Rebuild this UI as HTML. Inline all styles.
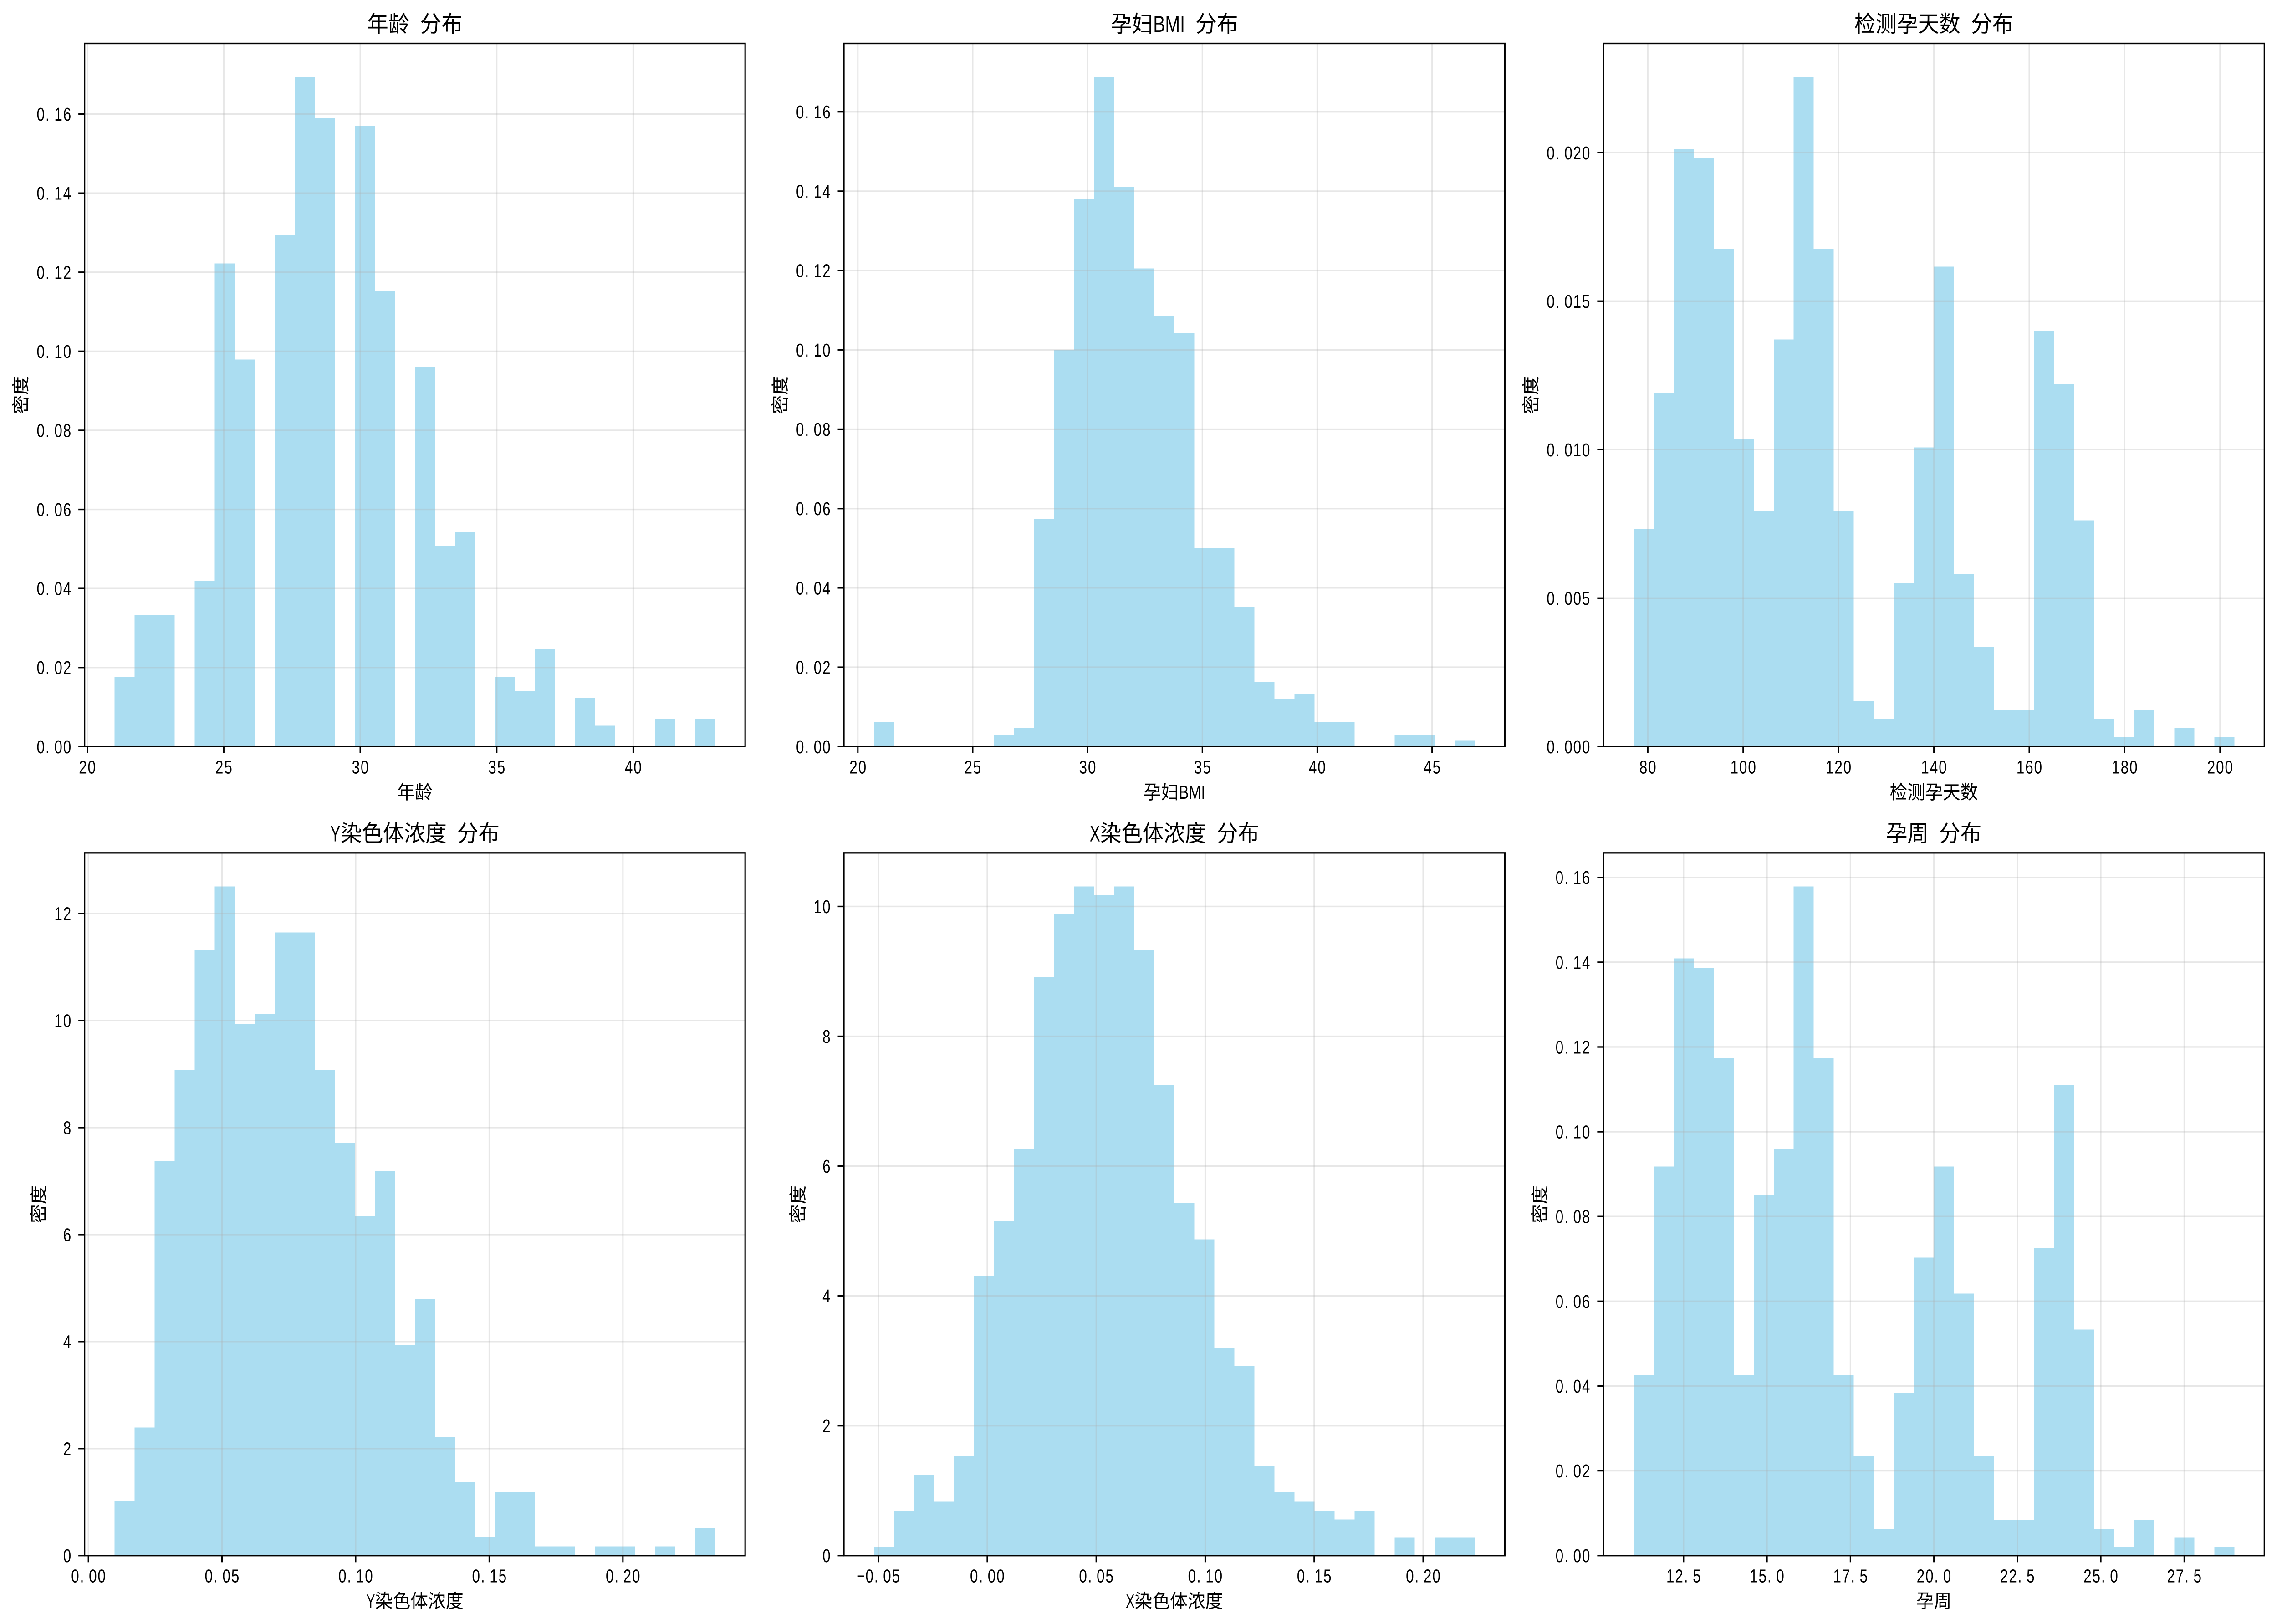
<!DOCTYPE html>
<html lang="zh">
<head>
<meta charset="utf-8">
<title>产前检测指标分布直方图</title>
<style>
html,body{margin:0;padding:0;background:#fff;width:100%;height:100%;overflow:hidden;}
svg{display:block;width:100vw;height:100vh;}
text{white-space:pre;fill:#000;}
</style>
</head>
<body>
<svg id="chart" xmlns="http://www.w3.org/2000/svg" viewBox="0 0 5371 3566" preserveAspectRatio="none">
<rect x="0" y="0" width="5371" height="3566" fill="#ffffff"></rect>
</svg>
<script>
// ---- Panel 1: age ----
const ageRange = [21, 43];
const ageBins = [0.0176,0.0332,0.0332,0,0.0419,0.1222,0.0979,0,0.1293,0.1694,0.1590,0,0.1571,0.1153,0,0.0961,0.0508,0.0542,0,0.0176,0.0141,0.0246,0,0.0123,0.0053,0,0,0.0070,0,0.0070];
const ageXTicks = ['20','25','30','35','40'];
const ageYTicks = ['0.00','0.02','0.04','0.06','0.08','0.10','0.12','0.14','0.16'];

// ---- Panel 2: BMI ----
const bmiRange = [20.7, 46.86];
const bmiBins = [0.0061,0,0,0,0,0,0.0030,0.0046,0.0573,0.0999,0.1380,0.1688,0.1410,0.1205,0.1086,0.1043,0.0500,0.0500,0.0353,0.0162,0.0120,0.0133,0.0061,0.0061,0,0,0.0030,0.0030,0,0.0016];
const bmiXTicks = ['20','25','30','35','40','45'];
const bmiYTicks = ['0.00','0.02','0.04','0.06','0.08','0.10','0.12','0.14','0.16'];

// ---- Panel 3: test gestational days ----
const daysRange = [77, 203];
const daysBins = [0.00732,0.0119,0.02012,0.01982,0.01676,0.01037,0.00794,0.01371,0.02255,0.01676,0.00794,0.00153,0.00093,0.00551,0.01007,0.01616,0.00581,0.00336,0.00123,0.00123,0.01401,0.0122,0.00762,0.00093,0.00032,0.00123,0,0.00062,0,0.00032];
const daysXTicks = ['80','100','120','140','160','180','200'];
const daysYTicks = ['0.000','0.005','0.010','0.015','0.020'];

// ---- Panel 4: Y chromosome concentration ----
const yConcRange = [0.0098, 0.2345];
const yConcBins = [1.026,2.395,7.37,9.08,11.31,12.51,9.94,10.12,11.65,11.65,9.08,7.71,6.34,7.19,3.94,4.80,2.22,1.37,0.342,1.19,1.19,0.171,0.171,0,0.171,0.171,0,0.171,0,0.51];
const yConcXTicks = ['0.00','0.05','0.10','0.15','0.20'];
const yConcYTicks = ['0','2','4','6','8','10','12'];

// ---- Panel 5: X chromosome concentration ----
const xConcRange = [-0.052, 0.2237];
const xConcBins = [0.137,0.692,1.248,0.829,1.53,4.31,5.15,6.26,8.91,9.89,10.31,10.17,10.31,9.33,7.25,5.43,4.87,3.20,2.92,1.385,0.974,0.829,0.692,0.556,0.692,0,0.274,0,0.274,0.274];
const xConcXTicks = ['-0.05','0.00','0.05','0.10','0.15','0.20'];
const xConcYTicks = ['0','2','4','6','8','10'];

// ---- Panel 6: gestational week ----
const weekRange = [11, 29];
const weekBins = [0.04256,0.0918,0.1409,0.1387,0.1174,0.04256,0.0852,0.0960,0.1579,0.1174,0.04256,0.02344,0.00629,0.03837,0.0703,0.0918,0.0618,0.02344,0.00839,0.00839,0.0725,0.1110,0.0533,0.00629,0.0021,0.00839,0,0.0042,0,0.0021];
const weekXTicks = ['12.5','15.0','17.5','20.0','22.5','25.0','27.5'];
const weekYTicks = ['0.00','0.02','0.04','0.06','0.08','0.10','0.12','0.14','0.16'];

const NS = 'http://www.w3.org/2000/svg';
const svg = document.getElementById('chart');
const CJK = '"Liberation Sans","Noto Sans CJK SC","WenQuanYi Zen Hei",sans-serif';
const columns = [[199.5, 1757.6], [1990.6, 3549.6], [3782.2, 5341.2]];
const rows = [[95.5, 1639.3], [1872.8, 3415.7]];
const LW = 3.33;
const TICK_LEN = 14.6;
const TICK_FS = 41.67;
const CELL = TICK_FS / 2;

const panels = [
  {key:'age',   col:0,row:0,title:'年龄 分布',label:'年龄',range:ageRange,bins:ageBins,xTicks:ageXTicks,yTicks:ageYTicks},
  {key:'bmi',   col:1,row:0,title:'孕妇BMI 分布',label:'孕妇BMI',range:bmiRange,bins:bmiBins,xTicks:bmiXTicks,yTicks:bmiYTicks},
  {key:'days',  col:2,row:0,title:'检测孕天数 分布',label:'检测孕天数',range:daysRange,bins:daysBins,xTicks:daysXTicks,yTicks:daysYTicks},
  {key:'y-conc',col:0,row:1,title:'Y染色体浓度 分布',label:'Y染色体浓度',range:yConcRange,bins:yConcBins,xTicks:yConcXTicks,yTicks:yConcYTicks},
  {key:'x-conc',col:1,row:1,title:'X染色体浓度 分布',label:'X染色体浓度',range:xConcRange,bins:xConcBins,xTicks:xConcXTicks,yTicks:xConcYTicks},
  {key:'week',  col:2,row:1,title:'孕周 分布',label:'孕周',range:weekRange,bins:weekBins,xTicks:weekXTicks,yTicks:weekYTicks}
];

function setAll(el, props){ for (const k in props) el.setAttribute(k, props[k]); }

function isWide(ch){ return ch.charCodeAt(0) > 255; }

// SimHei-like layout: CJK chars take one em, Latin chars are squeezed into half an em each.
function addCjkLabel(text, str, fs, startX){
  text.setAttribute('x', startX.toFixed(2));
  const runs = str.match(/[^\x00-\xff]+|[!-\xff]+| +/g);
  runs.forEach(run => {
    const sp = document.createElementNS(NS, 'tspan');
    if (!isWide(run[0])){
      setAll(sp, {textLength:(run.length * fs / 2).toFixed(2), lengthAdjust:'spacingAndGlyphs'});
    }
    sp.textContent = run;
    text.appendChild(sp);
  });
}

function labelWidth(str, fs){
  let w = 0;
  for (const ch of str) w += isWide(ch) ? fs : fs / 2;
  return w;
}

// Tick text: half-em digit cells, condensed Liberation Sans
function setTickText(text, str, startX, baseline){
  const sx = 0.82;
  const xs = [];
  for (let i = 0; i < str.length; i++) xs.push(((i * CELL + 1) / sx).toFixed(2));
  setAll(text, {x:xs.join(' '), y:0, transform:`translate(${startX.toFixed(2)} ${baseline.toFixed(2)}) scale(${sx} 1)`,
    'font-family':'"Liberation Sans",sans-serif','font-size':41});
  text.textContent = str.replace('-', '\u2212');
}

panels.forEach(p => {
  const [left, right] = columns[p.col];
  const [top, bottom] = rows[p.row];
  const span = p.range[1] - p.range[0];
  const xMin = p.range[0] - 0.05 * span;
  const xMax = p.range[1] + 0.05 * span;
  const yMax = Math.max(...p.bins) * 1.05;
  const xScale = v => left + (v - xMin) / (xMax - xMin) * (right - left);
  const yScale = v => bottom - v / yMax * (bottom - top);

  const g = document.createElementNS(NS, 'g');
  
  
  svg.appendChild(g);

  // bars
  const binW = span / p.bins.length;
  p.bins.forEach((v, i) => {
    const bar = document.createElementNS(NS, 'rect');
    const x0 = xScale(p.range[0] + i * binW);
    const x1 = xScale(p.range[0] + (i + 1) * binW);
    setAll(bar, {x:x0.toFixed(2), y:yScale(v).toFixed(2), width:(x1-x0).toFixed(2), height:(bottom-yScale(v)).toFixed(2),
      fill:'#87ceeb','fill-opacity':0.7,'shape-rendering':'crispEdges'});
    
    
    g.appendChild(bar);
  });

  // x grid, ticks, labels
  p.xTicks.forEach(label => {
    const px = xScale(Number(label));
    const grid = document.createElementNS(NS, 'line');
    setAll(grid, {x1:px, x2:px, y1:top, y2:bottom, stroke:'#b0b0b0','stroke-opacity':0.3,'stroke-width':LW});
    
    
    g.appendChild(grid);

    const tick = document.createElementNS(NS, 'line');
    setAll(tick, {x1:px, x2:px, y1:bottom, y2:bottom + TICK_LEN, stroke:'#000','stroke-width':LW});
    
    
    g.appendChild(tick);

    const t = document.createElementNS(NS, 'text');
    setTickText(t, label, px - label.length * CELL / 2, bottom + 59);
    
    
    g.appendChild(t);
  });

  // y grid, ticks, labels
  p.yTicks.forEach(label => {
    const py = yScale(Number(label));
    const grid = document.createElementNS(NS, 'line');
    setAll(grid, {x1:left, x2:right, y1:py, y2:py, stroke:'#b0b0b0','stroke-opacity':0.3,'stroke-width':LW});
    
    
    g.appendChild(grid);

    const tick = document.createElementNS(NS, 'line');
    setAll(tick, {x1:left - TICK_LEN, x2:left, y1:py, y2:py, stroke:'#000','stroke-width':LW});
    
    
    g.appendChild(tick);

    const t = document.createElementNS(NS, 'text');
    setTickText(t, label, left - TICK_LEN - 16 - label.length * CELL, py + 14.5);
    
    
    g.appendChild(t);
  });

  // frame
  const frame = document.createElementNS(NS, 'rect');
  setAll(frame, {x:left, y:top, width:right-left, height:bottom-top, fill:'none', stroke:'#000','stroke-width':LW});
  
  
  g.appendChild(frame);

  const cx = (left + right) / 2;

  // title
  const title = document.createElementNS(NS, 'text');
  setAll(title, {y:top - 25.5, 'font-family':CJK, 'font-size':50});
  addCjkLabel(title, p.title, 50, cx - labelWidth(p.title, 50) / 2);
  
  
  g.appendChild(title);

  // x label
  const xl = document.createElementNS(NS, 'text');
  setAll(xl, {y:bottom + 114.5, 'font-family':CJK, 'font-size':TICK_FS});
  addCjkLabel(xl, p.label, TICK_FS, cx - labelWidth(p.label, TICK_FS) / 2);
  
  
  g.appendChild(xl);

  // y label
  const longest = Math.max(...p.yTicks.map(s => s.length));
  const lx = left - (67 + longest * CELL) + 15;
  const ly = (top + bottom) / 2;
  const yl = document.createElementNS(NS, 'text');
  setAll(yl, {x:0, y:0, transform:`translate(${lx.toFixed(2)} ${ly.toFixed(2)}) rotate(-90)`,
    'text-anchor':'middle','font-family':CJK,'font-size':TICK_FS});
  yl.textContent = '密度';
  
  
  g.appendChild(yl);
});
</script>
</body>
</html>
